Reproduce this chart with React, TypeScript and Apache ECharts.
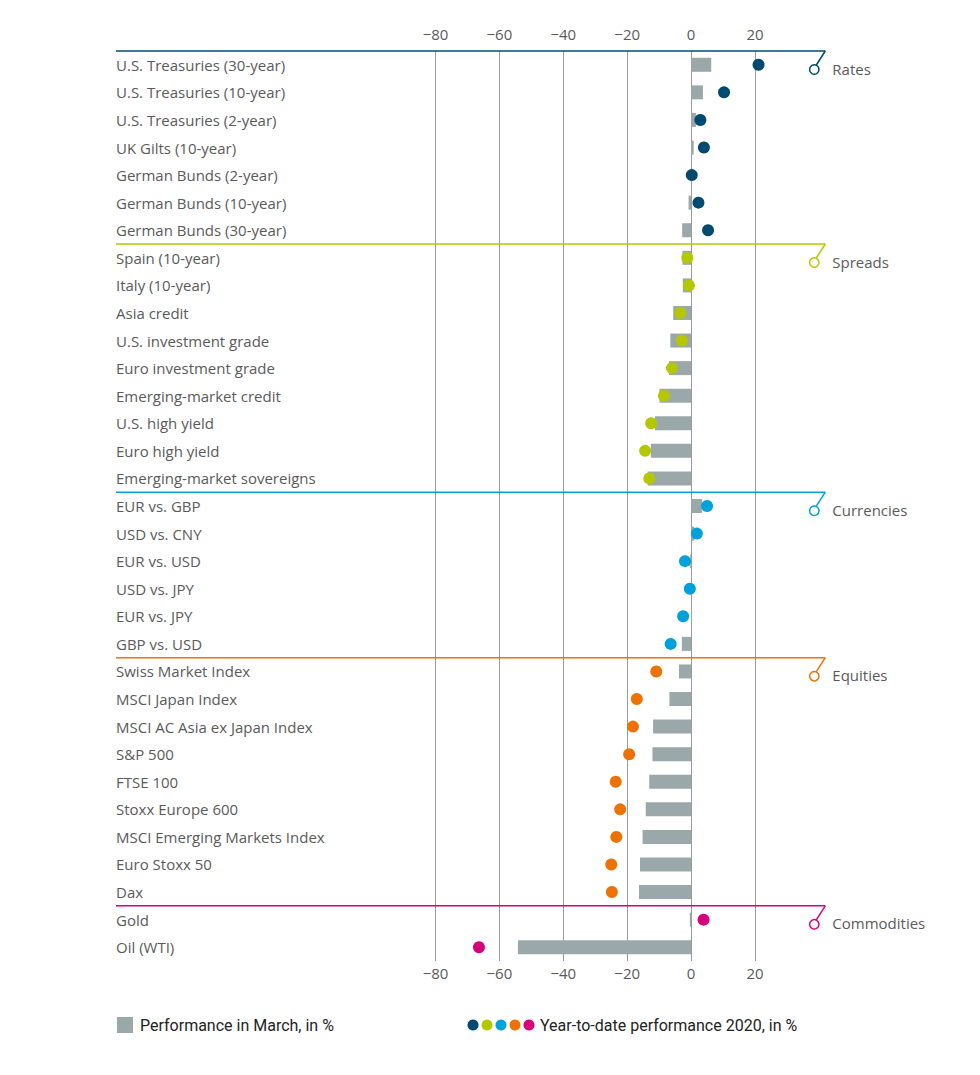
import React, { useEffect, useRef } from 'react';
import * as echarts from 'echarts';

const categories = [
  'U.S. Treasuries (30-year)',
  'U.S. Treasuries (10-year)',
  'U.S. Treasuries (2-year)',
  'UK Gilts (10-year)',
  'German Bunds (2-year)',
  'German Bunds (10-year)',
  'German Bunds (30-year)',
  'Spain (10-year)',
  'Italy (10-year)',
  'Asia credit',
  'U.S. investment grade',
  'Euro investment grade',
  'Emerging-market credit',
  'U.S. high yield',
  'Euro high yield',
  'Emerging-market sovereigns',
  'EUR vs. GBP',
  'USD vs. CNY',
  'EUR vs. USD',
  'USD vs. JPY',
  'EUR vs. JPY',
  'GBP vs. USD',
  'Swiss Market Index',
  'MSCI Japan Index',
  'MSCI AC Asia ex Japan Index',
  'S&P 500',
  'FTSE 100',
  'Stoxx Europe 600',
  'MSCI Emerging Markets Index',
  'Euro Stoxx 50',
  'Dax',
  'Gold',
  'Oil (WTI)',
];

const marchPerf = [
  6.3, 3.7, 1.5, 0.8, 0, -0.8, -2.8,
  -2.7, -2.6, -5.6, -6.5, -6.9, -9.9, -11.3, -12.6, -13.6,
  3.4, 1.0, -0.3, 0.2, 0.3, -2.9,
  -3.8, -6.8, -11.9, -12.1, -13.1, -14.2, -15.2, -16.0, -16.3,
  -0.4, -54.2,
];

const ytdPerf = [
  21.1, 10.3, 2.9, 4.0, 0.2, 2.3, 5.3,
  -1.2, -0.7, -3.4, -2.9, -6.0, -8.5, -12.5, -14.4, -13.1,
  5.0, 1.8, -1.9, -0.4, -2.5, -6.4,
  -10.9, -17.0, -18.2, -19.4, -23.6, -22.2, -23.4, -25.0, -24.8,
  3.9, -66.4,
];

const groupNames = ['Rates', 'Spreads', 'Currencies', 'Equities', 'Commodities'];
const groupStarts = [0, 7, 16, 22, 31];
const groupColors = ['#004a6f', '#b3c800', '#00a2db', '#ee7203', '#d6007b'];

const tickValues = [-80, -60, -40, -20, 0, 20];

const legendBarText = 'Performance in March, in %';
const legendDotText = 'Year-to-date performance 2020, in %';

const FONT = '"Open Sans", Roboto, sans-serif';
const LFONT = 'Roboto, "Noto Sans", sans-serif';
const TEXT = '#5a5a5a';
const BAR = '#9ba8aa';

function groupIndexOf(i: number): number {
  let g = 0;
  for (let k = 0; k < groupStarts.length; k++) if (i >= groupStarts[k]) g = k;
  return g;
}

function fmt(v: number): string {
  if (tickValues.indexOf(v) < 0) return '';
  return String(v).replace('-', '\u2212');
}

export default function App() {
  const ref = useRef<HTMLDivElement>(null);

  useEffect(() => {
    document.body.style.margin = '0';
    const chart = echarts.init(ref.current!, null, { renderer: 'svg' });
    const axisLabel = (margin: number) => ({
      formatter: fmt,
      color: TEXT,
      fontSize: 15,
      fontFamily: FONT,
      margin,
    });
    chart.setOption({
      animation: false,
      grid: { left: 116, right: 154.7, top: 51, bottom: 114, containLabel: false },
      xAxis: [
        {
          type: 'value', position: 'bottom', min: -180, max: 42, interval: 20,
          axisLine: { show: false }, axisTick: { show: false }, splitLine: { show: false },
          axisLabel: axisLabel(4),
        },
        {
          type: 'value', position: 'top', min: -180, max: 42, interval: 20,
          axisLine: { show: false }, axisTick: { show: false }, splitLine: { show: false },
          axisLabel: axisLabel(10),
        },
      ],
      yAxis: {
        type: 'category', inverse: true, data: categories,
        axisLine: { show: false }, axisTick: { show: false }, splitLine: { show: false },
        axisLabel: { inside: true, margin: 0, color: TEXT, fontSize: 15, fontFamily: FONT },
      },
      series: [
        {
          type: 'bar', xAxisIndex: 0, data: marchPerf, barWidth: 14,
          itemStyle: { color: BAR }, silent: true, z: 2,
          markLine: {
            z: 1, silent: true, symbol: ['none', 'none'], label: { show: false },
            lineStyle: { color: '#9a9a9a', width: 1, type: 'solid' },
            data: tickValues.map((v) => ({ xAxis: v })),
          },
        },
        {
          type: 'scatter', xAxisIndex: 0, symbolSize: 12, z: 3, silent: true,
          data: ytdPerf.map((v, i) => ({
            value: [v, i],
            itemStyle: { color: groupColors[groupIndexOf(i)], opacity: 1 },
          })),
        },
      ],
    });

    const y0 = chart.convertToPixel({ yAxisIndex: 0 }, 0) as number;
    const y1 = chart.convertToPixel({ yAxisIndex: 0 }, 1) as number;
    const band = y1 - y0;
    const lineEnd = chart.convertToPixel({ xAxisIndex: 0 }, 42) as number;
    const left = chart.convertToPixel({ xAxisIndex: 0 }, -180) as number;

    const elements: any[] = [];
    groupStarts.forEach((s, g) => {
      const yc = chart.convertToPixel({ yAxisIndex: 0 }, s) as number;
      const y = yc - band / 2;
      const c = groupColors[g];
      elements.push({
        type: 'line', silent: true, z: 10,
        shape: { x1: left, y1: y, x2: lineEnd, y2: y },
        style: { stroke: c, lineWidth: 1.5 },
      });
      elements.push({
        type: 'line', silent: true, z: 10,
        shape: { x1: lineEnd, y1: y, x2: lineEnd - 9, y2: y + 14 },
        style: { stroke: c, lineWidth: 1.5 },
      });
      elements.push({
        type: 'circle', silent: true, z: 10,
        shape: { cx: lineEnd - 11, cy: y + 18.5, r: 4.7 },
        style: { fill: '#fff', stroke: c, lineWidth: 1.5 },
      });
      elements.push({
        type: 'text', silent: true, z: 10, x: lineEnd + 7, y: y + 17.5,
        style: {
          text: groupNames[g], fill: TEXT, font: `15px ${FONT}`,
          textAlign: 'left', textVerticalAlign: 'middle',
        },
      });
    });

    // legend
    elements.push({
      type: 'rect', silent: true, shape: { x: 117, y: 1017, width: 16, height: 16 },
      style: { fill: BAR },
    });
    elements.push({
      type: 'text', silent: true, x: 140, y: 1025,
      style: { text: legendBarText, fill: '#222', font: `16px ${LFONT}`, textAlign: 'left', textVerticalAlign: 'middle' },
    });
    groupColors.forEach((c, k) => {
      elements.push({
        type: 'circle', silent: true, shape: { cx: 473 + k * 14, cy: 1025, r: 5.5 },
        style: { fill: c },
      });
    });
    elements.push({
      type: 'text', silent: true, x: 540, y: 1025,
      style: { text: legendDotText, fill: '#222', font: `16px ${LFONT}`, textAlign: 'left', textVerticalAlign: 'middle' },
    });

    chart.setOption({ graphic: elements });
    return () => chart.dispose();
  }, []);

  return <div ref={ref} style={{ width: 980, height: 1075 }} />;
}
